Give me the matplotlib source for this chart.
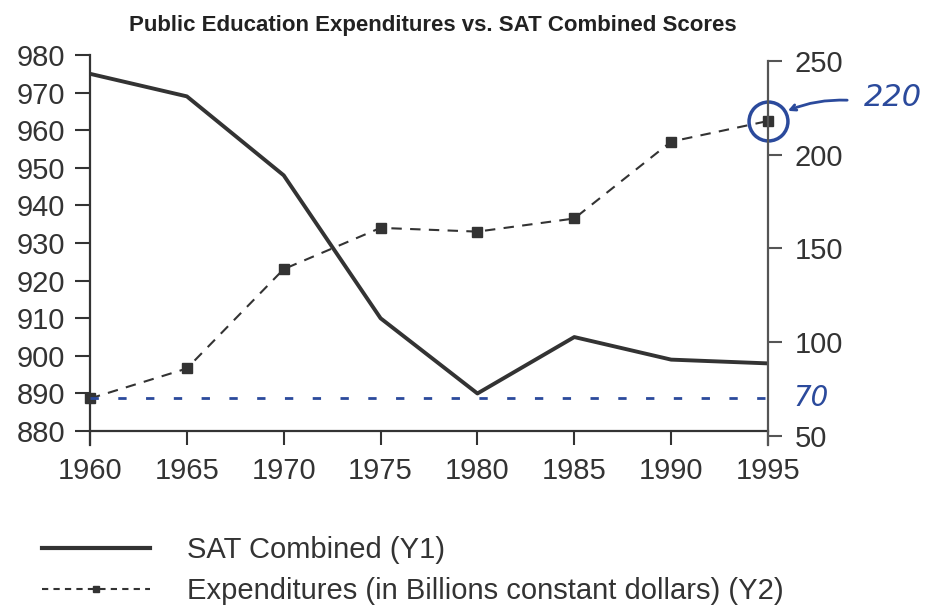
import matplotlib.pyplot as plt
from matplotlib.lines import Line2D

plt.rcParams['font.family'] = ['Liberation Sans', 'DejaVu Sans']

# Данные
years = [1960, 1965, 1970, 1975, 1980, 1985, 1990, 1995]
sat_combined = [975, 969, 948, 910, 890, 905, 899, 898]
expenditures = [70, 86, 139, 161, 159, 166, 207, 218]

# Рукописные пометки на скане
note_high = 220
note_low = 70

ink = '#333333'
pen = '#2b4a9c'

fig = plt.figure(figsize=(9.3, 6.12), dpi=100)
ax = fig.add_axes([90 / 930, 1 - 445 / 612, 678 / 930, 390 / 612])
ax2 = ax.twinx()

# SAT (левая ось)
ax.plot(years, sat_combined, color=ink, lw=2.8, solid_joinstyle='round')
ax.set_xlim(1960, 1995)
ax.set_ylim(876.3, 980)
ax.set_yticks(range(880, 981, 10))
ax.set_xticks(years)

# Расходы (правая ось)
ax2.plot(years, expenditures, color=ink, lw=1.5, ls=(0, (5, 4)),
         marker='s', ms=7, clip_on=False)
ax2.set_ylim(45.2, 253.2)
ax2.set_yticks(range(50, 251, 50))

# Оси
for a in (ax, ax2):
    a.spines['top'].set_visible(False)
ax.spines['right'].set_visible(False)
ax2.spines['left'].set_visible(False)
ax2.spines['bottom'].set_visible(False)
ax.spines['bottom'].set_position(('data', 880))
ax2.spines['right'].set_bounds(45.2, 250)
for s in ('left', 'bottom'):
    ax.spines[s].set_color(ink)
    ax.spines[s].set_linewidth(1.6)
ax2.spines['right'].set_color('#555555')
ax2.spines['right'].set_linewidth(1.6)

ax.tick_params(axis='y', direction='out', length=11, width=1.5, color=ink,
               labelsize=21, pad=7, labelcolor='#333333')
ax.tick_params(axis='x', direction='out', length=10, width=1.5, color=ink,
               labelsize=21, pad=9, labelcolor='#333333')
ax2.tick_params(axis='y', direction='out', length=10, width=1.5, color='#555555',
                labelsize=21, pad=9, labelcolor='#333333')

# Заголовок
fig.text(433 / 930, 1 - 26 / 612, 'Public Education Expenditures vs. SAT Combined Scores',
         ha='center', va='center', fontsize=16, fontweight='bold', color='#222222')

# Синие пометки от руки
ax2.hlines(note_low, years[0], years[-1], colors=pen, lw=2, linestyles=(0, (3, 7)))
ax2.plot(years[-1], expenditures[-1], 'o', ms=28, mfc='none', mec=pen, mew=2.5,
         clip_on=False)
ax2.annotate('', xy=(years[-1], expenditures[-1]), xytext=(57, 15),
             textcoords='offset points',
             arrowprops=dict(arrowstyle='->', color=pen, lw=2, shrinkA=0, shrinkB=16,
                             connectionstyle='arc3,rad=0.15'))
ax2.annotate(str(note_high), xy=(years[-1], expenditures[-1]), xytext=(90, 17),
             textcoords='offset points', ha='center', va='center',
             fontsize=22, style='italic', color=pen, family='DejaVu Sans')
ax2.annotate(str(note_low), xy=(years[-1], note_low), xytext=(31, 0),
             textcoords='offset points', ha='center', va='center',
             fontsize=20, style='italic', color=pen, family='DejaVu Sans')

# Легенда
handles = [
    Line2D([], [], color=ink, lw=3),
    Line2D([], [], color=ink, lw=1.5, ls=(0, (3, 2.5)), marker='s', ms=5),
]
labels = ['SAT Combined (Y1)', 'Expenditures (in Billions constant dollars) (Y2)']
fig.legend(handles, labels, loc='upper left', bbox_to_anchor=(42 / 930, 1 - 536 / 612),
           frameon=False, fontsize=21, handlelength=3.7, handletextpad=1.27,
           labelspacing=0.45, borderpad=0, borderaxespad=0, numpoints=1,
           labelcolor='#333333')

fig.savefig('out.png', dpi=100)
